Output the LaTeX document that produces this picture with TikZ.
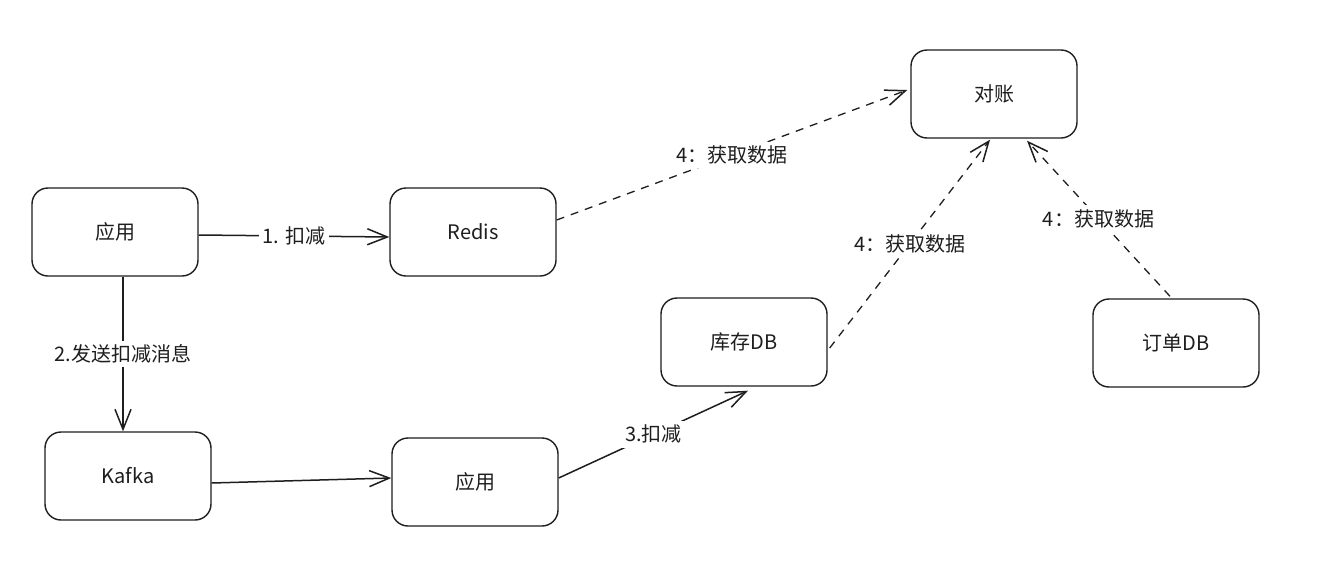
\documentclass[tikz,border=0pt]{standalone}
\usepackage{fontspec}
\setmainfont{Noto Sans CJK SC}
\usetikzlibrary{arrows.meta}
\definecolor{ink}{HTML}{1E1E1E}
\begin{document}
\begin{tikzpicture}[x=1pt,y=-1pt,
  box/.style={draw=ink, line width=1.4pt, rounded corners=16pt, minimum width=166pt, minimum height=88pt,
    font=\fontsize{20}{24}\selectfont, text=ink, inner sep=0pt},
  tip/.style={-{Straight Barb[length=20pt,width=16pt,line width=1.5pt]}},
  conn/.style={draw=ink, line width=1.5pt, tip},
  dashconn/.style={conn, line width=1.3pt, dash pattern=on 8pt off 7pt},
  lbl/.style={fill=white, text=ink, font=\fontsize{20}{24}\selectfont, inner sep=4pt}
]
\useasboundingbox (0,0) rectangle (1330,581);
\fill[white] (0,0) rectangle (1330,581);

\node[box] (app1) at (115,232) {应用};
\node[box] (redis) at (473,232) {Redis};
\node[box] (kafka) at (128,476) {Kafka};
\node[box] (app2) at (475,482) {应用};
\node[box] (stock) at (744,342) {库存DB};
\node[box] (order) at (1176,343) {订单DB};
\node[box] (recon) at (994,94) {对账};

\draw[conn] ([yshift=-3pt]app1.east) -- node[lbl] {1. 扣减} ([yshift=-5pt]redis.west);
\draw[conn] ([xshift=8pt]app1.south) -- node[lbl] {2.发送扣减消息} ([xshift=-5pt]kafka.north);
\draw[conn] ([yshift=-7pt]kafka.east) -- ([yshift=4pt]app2.west);
\draw[conn] ([yshift=4pt]app2.east) -- node[lbl] {3.扣减} ([xshift=4pt,yshift=-4pt]stock.south);
\draw[dashconn] ([yshift=12pt]redis.east) -- node[lbl] {4：获取数据} ([xshift=-3pt,yshift=4pt]recon.west);
\draw[dashconn] ([xshift=2pt,yshift=-6pt]stock.east) -- node[lbl] {4：获取数据} ([xshift=-4pt,yshift=-1pt]recon.south);
\draw[dashconn] ([xshift=-6pt,yshift=2pt]order.north) -- node[lbl] {4：获取数据} ([xshift=33pt,yshift=-2pt]recon.south);
\end{tikzpicture}
\end{document}
